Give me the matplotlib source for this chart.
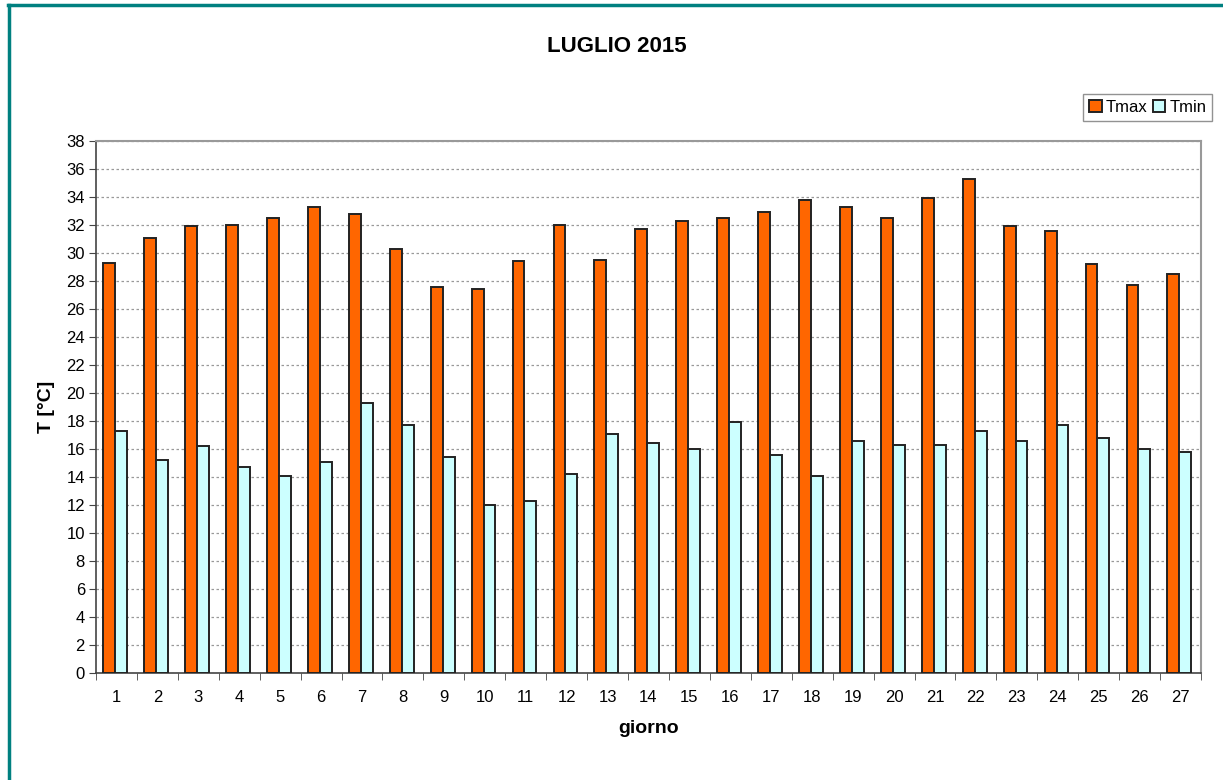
import numpy as np
import matplotlib
matplotlib.use('Agg')
import matplotlib.pyplot as plt
from matplotlib.lines import Line2D

plt.rcParams['font.family'] = ['Liberation Sans', 'DejaVu Sans']

giorni = list(range(1, 28))
tmax = [29.3, 31.1, 31.9, 32.0, 32.5, 33.3, 32.8, 30.3, 27.6, 27.4, 29.4, 32.0, 29.5, 31.7,
        32.3, 32.5, 32.9, 33.8, 33.3, 32.5, 33.9, 35.3, 31.9, 31.6, 29.2, 27.7, 28.5]
tmin = [17.3, 15.2, 16.2, 14.7, 14.1, 15.1, 19.3, 17.7, 15.4, 12.0, 12.3, 14.2, 17.1, 16.4,
        16.0, 17.9, 15.6, 14.1, 16.6, 16.3, 16.3, 17.3, 16.6, 17.7, 16.8, 16.0, 15.8]
y_ticks = list(range(0, 39, 2))

def main():
    fig = plt.figure(figsize=(12.23, 7.80), dpi=100)
    ax = fig.add_axes([96/1223, 1-673/780, (1201-96)/1223, (673-141)/780])

    x = np.array(giorni)
    w = 0.29
    ax.bar(x - w/2 - 0.03, tmax, w, color='#FF6600', edgecolor='#222222', linewidth=1.4, label='Tmax', zorder=3)
    ax.bar(x + w/2 - 0.03, tmin, w, color='#CCFFFF', edgecolor='#222222', linewidth=1.4, label='Tmin', zorder=3)

    ax.set_xlim(0.5, 27.5)
    ax.set_ylim(0, 38)
    ax.set_yticks(y_ticks)
    ax.set_xticks(x)
    ax.set_xticklabels([str(g) for g in giorni])
    ax.set_xticks(np.arange(0.5, 28, 1), minor=True)
    ax.tick_params(axis='x', which='major', length=0, pad=12, labelsize=12)
    ax.tick_params(axis='x', which='minor', length=5, color='#444444', direction='out')
    ax.tick_params(axis='y', length=5, color='#444444', labelsize=12, pad=3)

    ax.yaxis.grid(True, linestyle=(0, (2, 2)), color='#999999', linewidth=0.9, zorder=0)
    ax.set_axisbelow(True)
    for s in ['top', 'right']:
        ax.spines[s].set_color('#999999')
        ax.spines[s].set_linewidth(1.5)
    for s in ['left', 'bottom']:
        ax.spines[s].set_color('#444444')
        ax.spines[s].set_linewidth(1.2)

    ax.set_xlabel('giorno', fontsize=14, fontweight='bold', labelpad=11)
    ax.set_ylabel('T [°C]', fontsize=14, fontweight='bold', labelpad=8)
    fig.text(617/1223, 1-46/780, 'LUGLIO 2015', ha='center', va='center', fontsize=16, fontweight='bold')

    leg = fig.legend(loc='upper right', bbox_to_anchor=(1212/1223, 1-94/780), frameon=True,
                     fancybox=False, edgecolor='#777777', fontsize=12, handlelength=0.75,
                     handleheight=0.75, handletextpad=0.25, columnspacing=0.3, ncol=2,
                     borderpad=0.35, borderaxespad=0)
    leg.get_frame().set_linewidth(1.0)

    # teal frame on the figure
    fig.add_artist(Line2D([8/1223, 1], [1-5/780, 1-5/780], color='#008080', linewidth=2.5, transform=fig.transFigure))
    fig.add_artist(Line2D([9/1223, 9/1223], [0, 1-5/780], color='#008080', linewidth=2.5, transform=fig.transFigure))

    fig.savefig('out.png', dpi=100)


if __name__ == '__main__':
    main()
